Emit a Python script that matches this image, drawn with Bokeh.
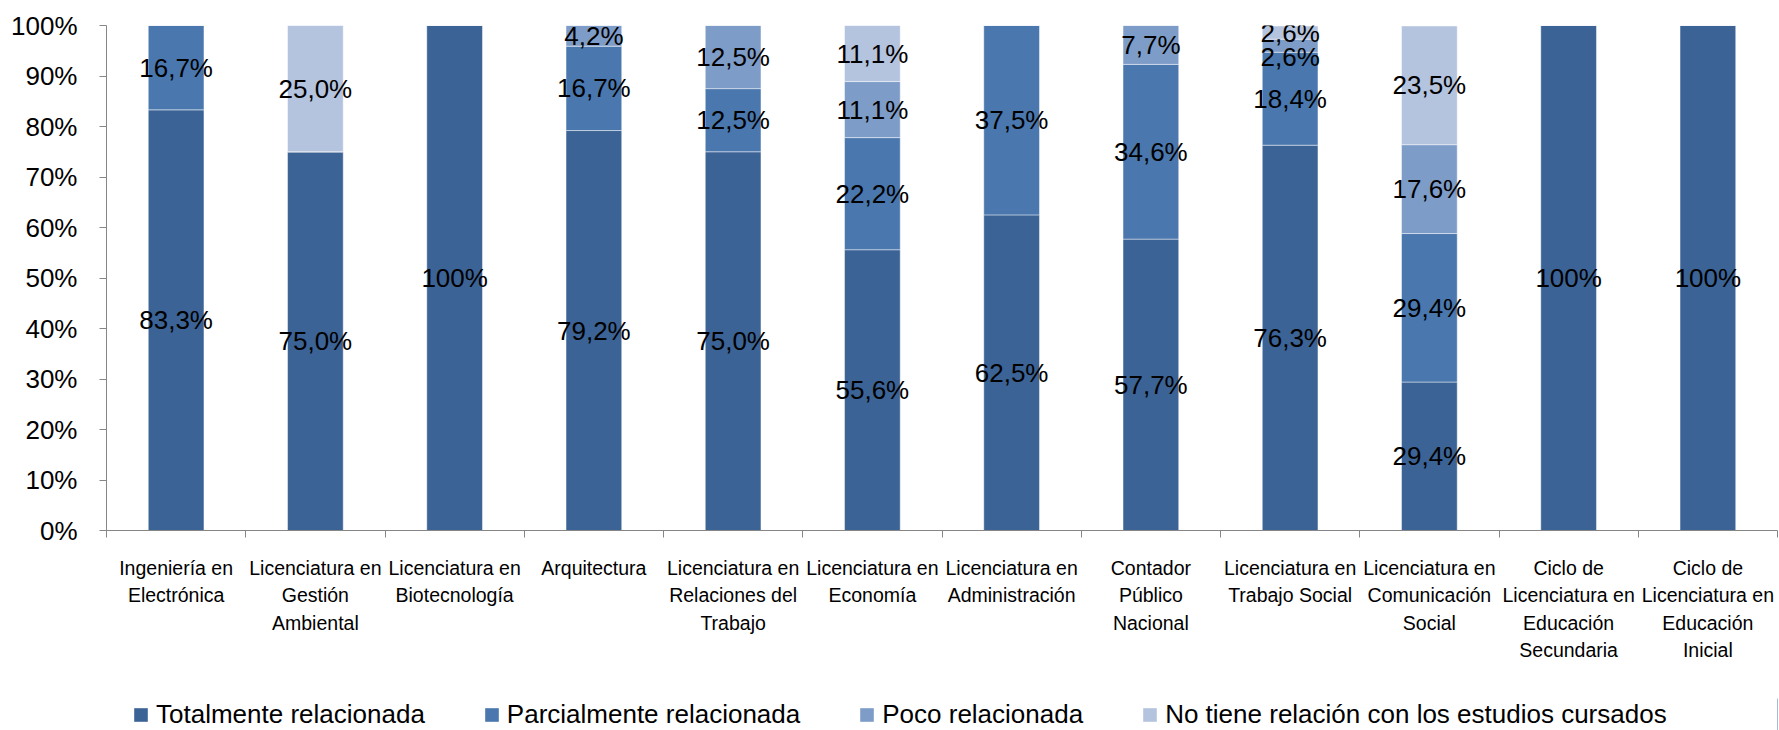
from bokeh.plotting import figure
from bokeh.layouts import column
from bokeh.models import (ColumnDataSource, FixedTicker, PrintfTickFormatter, Legend,
                          LegendItem, Range1d, CustomJSTickFormatter)
from bokeh.embed import file_html
from bokeh.resources import INLINE
from bokeh.core.properties import value

categories = [
    "Ingeniería en\nElectrónica",
    "Licenciatura en\nGestión\nAmbiental",
    "Licenciatura en\nBiotecnología",
    "Arquitectura",
    "Licenciatura en\nRelaciones del\nTrabajo",
    "Licenciatura en\nEconomía",
    "Licenciatura en\nAdministración",
    "Contador\nPúblico\nNacional",
    "Licenciatura en\nTrabajo Social",
    "Licenciatura en\nComunicación\nSocial",
    "Ciclo de\nLicenciatura en\nEducación\nSecundaria",
    "Ciclo de\nLicenciatura en\nEducación\nInicial",
]
series_names = ["Totalmente relacionada", "Parcialmente relacionada",
                "Poco relacionada", "No tiene relación con los estudios cursados"]
totalmente = [83.3, 75.0, 100, 79.2, 75.0, 55.6, 62.5, 57.7, 76.3, 29.4, 100, 100]
parcialmente = [16.7, 0, 0, 16.7, 12.5, 22.2, 37.5, 34.6, 18.4, 29.4, 0, 0]
poco = [0, 0, 0, 4.2, 12.5, 11.1, 0, 7.7, 2.6, 17.6, 0, 0]
no_relacion = [0, 25.0, 0, 0, 0, 11.1, 0, 0, 2.6, 23.5, 0, 0]
y_ticks = [0, 10, 20, 30, 40, 50, 60, 70, 80, 90, 100]

colors = ["#3C6395", "#4977AE", "#7E9CC8", "#B4C3DE"]
FONT = "Liberation Sans Narrow, Liberation Sans, Arial, sans-serif"
series = [totalmente, parcialmente, poco, no_relacion]
n = len(categories)
xs = [i + 0.5 for i in range(n)]

p = figure(width=1779, height=698, output_backend="svg", toolbar_location=None,
           x_range=Range1d(0, n), y_range=Range1d(0, 100),
           min_border_left=106, min_border_right=2, min_border_top=25,
           min_border_bottom=168)
p.outline_line_color = None
p.grid.visible = False
p.background_fill_color = "white"

bottoms = [0.0] * n
label_x, label_y, label_t = [], [], []
per_bar = [[] for _ in range(n)]
for s, col in zip(series, colors):
    tops = [min(b + v, 100) for b, v in zip(bottoms, s)]
    src = ColumnDataSource(dict(x=xs, bottom=bottoms, top=tops))
    p.vbar(x="x", bottom="bottom", top="top", width=0.4, source=src,
           fill_color=col, line_color="white", line_alpha=0.45, line_width=1)
    for i, v in enumerate(s):
        if v > 0:
            txt = "100%" if v >= 100 else f"{v:.1f}".replace(".", ",") + "%"
            per_bar[i].append(((bottoms[i] + tops[i]) / 2, txt))
    bottoms = tops

# avoid overlapping labels: process from top down
min_gap = 4.9
for i in range(n):
    prev = None
    for yc, txt in sorted(per_bar[i], key=lambda t: -t[0]):
        if prev is not None and prev - yc < min_gap:
            yc = prev - min_gap
        label_x.append(xs[i]); label_y.append(yc); label_t.append(txt)
        prev = yc

lsrc = ColumnDataSource(dict(x=label_x, y=label_y, t=label_t))
p.text(x="x", y="y", text="t", source=lsrc, text_align="center",
       text_baseline="middle", text_font=value(FONT), text_font_size="26px",
       text_color="black")

axis_color = "#868686"
# y axis
p.yaxis.ticker = FixedTicker(ticks=y_ticks)
p.yaxis.formatter = PrintfTickFormatter(format="%d%%")
p.yaxis.major_tick_out = 7
p.yaxis.major_tick_in = 0
p.yaxis.minor_tick_line_color = None
p.yaxis.axis_line_color = axis_color
p.yaxis.major_tick_line_color = axis_color
p.yaxis.major_label_text_font = FONT
p.yaxis.major_label_text_font_size = "26px"
p.yaxis.major_label_text_color = "black"
p.yaxis.major_label_standoff = 22

# x axis: labels at centers, ticks at boundaries
p.xaxis.ticker = FixedTicker(ticks=xs, minor_ticks=list(range(n + 1)))
p.xaxis.formatter = CustomJSTickFormatter(args=dict(labels=categories),
                                          code="return labels[Math.floor(tick)]")
p.xaxis.major_tick_out = 0
p.xaxis.major_tick_in = 0
p.xaxis.minor_tick_out = 7
p.xaxis.minor_tick_in = 0
p.xaxis.minor_tick_line_color = axis_color
p.xaxis.axis_line_color = axis_color
p.xaxis.major_label_text_font = FONT
p.xaxis.major_label_text_font_size = "19.5px"
p.xaxis.major_label_text_color = "black"
p.xaxis.major_label_standoff = 19
p.xaxis.major_label_text_line_height = 1.25

# legend strip below the chart (proxy bars sit outside its visible range)
p2 = figure(width=1779, height=32, output_backend="svg", toolbar_location=None,
            x_range=Range1d(0, 1), y_range=Range1d(0, 1),
            x_axis_location=None, y_axis_location=None,
            min_border_left=0, min_border_right=0, min_border_top=0, min_border_bottom=0)
p2.outline_line_color = None
p2.grid.visible = False
items = []
for nm, col in zip(series_names, colors):
    r = p2.vbar(x=[5], top=[1], width=0.4, fill_color=col, line_color=None)
    items.append(LegendItem(label=nm, renderers=[r]))

legend = Legend(items=items, orientation="horizontal", location=(26, 0))
legend.label_text_font = FONT
legend.label_text_font_size = "26px"
legend.label_text_color = "black"
legend.glyph_width = 17
legend.glyph_height = 17
legend.spacing = 58
legend.label_standoff = 7
legend.padding = 0
legend.margin = 0
legend.border_line_color = None
legend.background_fill_alpha = 0
p2.add_layout(legend)

layout = column(p, p2, spacing=0)
open("out.html", "w").write(file_html(layout, INLINE))
